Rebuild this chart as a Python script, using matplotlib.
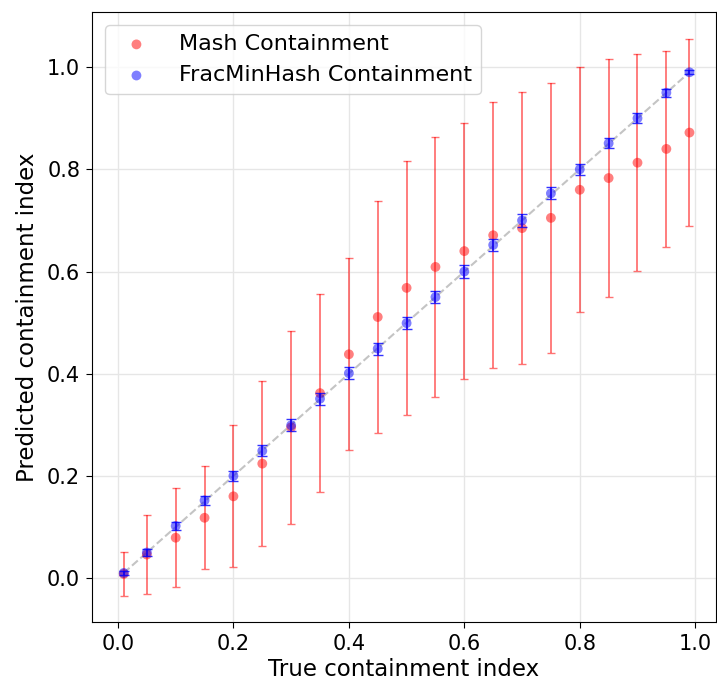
import numpy as np
import matplotlib
matplotlib.use("Agg")
import matplotlib.pyplot as plt

# true containment values
true_c = [0.01, 0.05, 0.1, 0.15, 0.2, 0.25, 0.3, 0.35, 0.4, 0.45, 0.5,
          0.55, 0.6, 0.65, 0.7, 0.75, 0.8, 0.85, 0.9, 0.95, 0.99]

# Mash containment: mean and std
mash_mean = [0.008, 0.046, 0.079, 0.118, 0.160, 0.224, 0.295, 0.362, 0.438, 0.511, 0.568,
             0.609, 0.640, 0.671, 0.685, 0.705, 0.760, 0.783, 0.813, 0.840, 0.872]
mash_std = [0.043, 0.077, 0.097, 0.101, 0.139, 0.161, 0.189, 0.194, 0.188, 0.227, 0.248,
            0.254, 0.250, 0.260, 0.266, 0.264, 0.240, 0.233, 0.212, 0.192, 0.183]

# FracMinHash containment: mean and std
fmh_mean = [0.010, 0.050, 0.102, 0.152, 0.200, 0.249, 0.299, 0.351, 0.401, 0.449, 0.499,
            0.550, 0.600, 0.652, 0.700, 0.753, 0.800, 0.851, 0.900, 0.950, 0.990]
fmh_std = [0.004, 0.006, 0.008, 0.009, 0.010, 0.011, 0.012, 0.012, 0.012, 0.012, 0.012,
           0.012, 0.012, 0.012, 0.012, 0.012, 0.011, 0.010, 0.010, 0.008, 0.004]

plt.rcParams['font.size'] = 15

fig = plt.figure(figsize=(7.17, 6.89), dpi=100)
ax = fig.add_subplot(111)
fig.subplots_adjust(left=92/717, right=716/717, top=1-12/689, bottom=1-622/689)

# diagonale
ax.plot([true_c[0], true_c[-1]], [true_c[0], true_c[-1]], '--', color='#c4c4c4', lw=1.5, zorder=1)

ax.errorbar(true_c, mash_mean, yerr=mash_std, fmt='none', ecolor='red', alpha=0.55,
            capsize=3, elinewidth=1.3, zorder=2)
ax.scatter(true_c, mash_mean, s=50, color='red', alpha=0.5, edgecolors='none',
           label='Mash Containment', zorder=3)

ax.errorbar(true_c, fmh_mean, yerr=fmh_std, fmt='none', ecolor='blue', alpha=0.8,
            capsize=3.5, elinewidth=1.3, zorder=4)
ax.scatter(true_c, fmh_mean, s=50, color='blue', alpha=0.5, edgecolors='none',
           label='FracMinHash Containment', zorder=5)

ax.set_xlim(-0.045, 1.036)
ax.set_ylim(-0.086, 1.108)
ax.set_xticks([0.0, 0.2, 0.4, 0.6, 0.8, 1.0])
ax.set_yticks([0.0, 0.2, 0.4, 0.6, 0.8, 1.0])
ax.tick_params(labelsize=15, length=4.5, pad=4)
ax.grid(True, color='#e6e6e6', lw=1)
ax.set_axisbelow(True)

ax.set_xlabel('True containment index', fontsize=16.5, labelpad=3)
ax.set_ylabel('Predicted containment index', fontsize=16.5, labelpad=6)
ax.legend(loc='upper left', fontsize=16, handletextpad=0.9, borderaxespad=0.6)

fig.savefig('out.png', dpi=100)
